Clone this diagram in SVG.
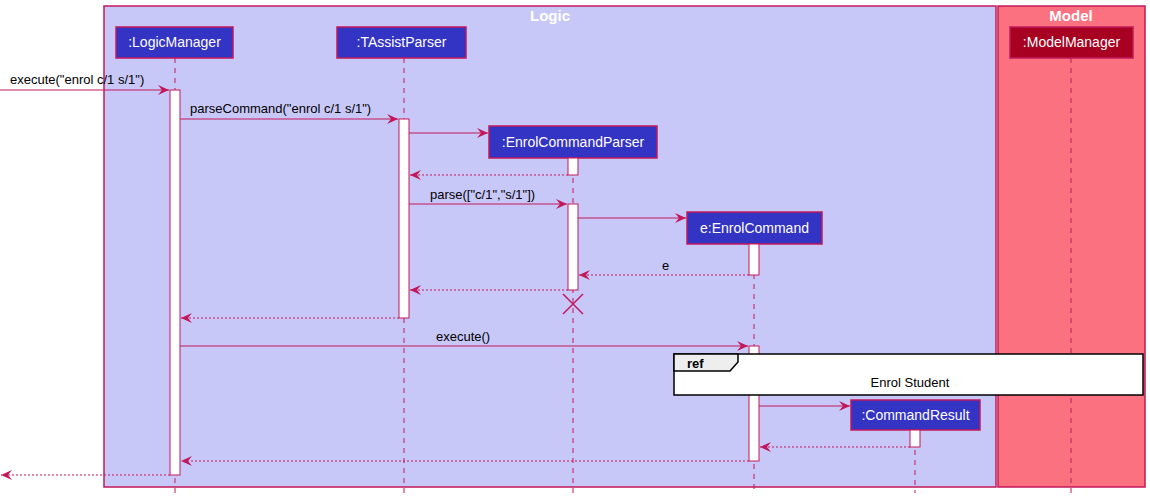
<svg xmlns="http://www.w3.org/2000/svg" width="1150" height="499" viewBox="0 0 1150 499">
<style>
text{font-family:"Liberation Sans",Arial,sans-serif;font-size:13px}
.pb{fill:#3333C4;stroke:#C2185B;stroke-width:1.5}
.pt{fill:#fff;font-size:14px}
.ll{stroke:#C2185B;stroke-width:1;stroke-dasharray:5,5}
.act{fill:#fff;stroke:#C2185B;stroke-width:1}
.m{stroke:#C2185B;stroke-width:1;fill:none}
.r{stroke:#C2185B;stroke-width:1;fill:none;stroke-dasharray:2,2}
</style>
<defs>
<marker id="a" markerWidth="12" markerHeight="10" refX="11" refY="5" orient="auto" markerUnits="userSpaceOnUse"><path d="M0,0 L11,5 L0,10 L4,5 Z" fill="#C2185B"/></marker>
</defs>
<g id="logic"><rect x="104" y="6" width="892" height="481" fill="#C8C8F8" stroke="#C2185B" stroke-width="1.5"/><text x="550" y="21" text-anchor="middle" fill="#fff" font-weight="bold" style="font-size:15px">Logic</text></g>
<g id="model"><rect x="998" y="6" width="147" height="481" fill="#FC7180" stroke="#C2185B" stroke-width="1.5"/><text x="1071" y="21" text-anchor="middle" fill="#fff" font-weight="bold" style="font-size:15px">Model</text></g>
<g id="lifelines">
<line class="ll" x1="175" y1="58" x2="175" y2="493"/>
<line class="ll" x1="404" y1="58" x2="404" y2="493"/>
<line class="ll" x1="573" y1="158" x2="573" y2="493"/>
<line class="ll" x1="754" y1="244" x2="754" y2="493"/>
<line class="ll" x1="915" y1="430" x2="915" y2="493"/>
<line class="ll" x1="1071" y1="58" x2="1071" y2="493"/>
</g>
<g id="LogicManager"><rect class="pb" x="116" y="27" width="117" height="31"/><text class="pt" x="174.5" y="47" text-anchor="middle">:LogicManager</text><rect class="act" x="170" y="90" width="10" height="385"/></g>
<g id="TAssistParser"><rect class="pb" x="337" y="27" width="129" height="31"/><text class="pt" x="401.5" y="47" text-anchor="middle">:TAssistParser</text><rect class="act" x="399" y="119" width="10" height="199"/></g>
<g id="EnrolCommandParser"><rect class="pb" x="489" y="126" width="168" height="32"/><text class="pt" x="573" y="147" text-anchor="middle">:EnrolCommandParser</text><rect class="act" x="568" y="158" width="10" height="17"/><rect class="act" x="568" y="204" width="10" height="86"/><path d="M563,294 L583,314 M583,294 L563,314" stroke="#C2185B" stroke-width="1.5"/></g>
<g id="EnrolCommand"><rect class="pb" x="687" y="212" width="135" height="32"/><text class="pt" x="754.5" y="233" text-anchor="middle">e:EnrolCommand</text><rect class="act" x="749" y="244" width="10" height="31"/><rect class="act" x="749" y="346" width="10" height="115"/></g>
<g id="CommandResult"><rect class="pb" x="851" y="400" width="129" height="30"/><text class="pt" x="915.5" y="420" text-anchor="middle">:CommandResult</text><rect class="act" x="910" y="430" width="10" height="17"/></g>
<g id="ModelManager"><rect class="pb" x="1010" y="27" width="123" height="31" fill="#A80020" style="fill:#A80020"/><text class="pt" x="1071.5" y="47" text-anchor="middle">:ModelManager</text></g>
<g id="connectors">
<line class="m" x1="0" y1="90" x2="169" y2="90" marker-end="url(#a)"/><text x="10" y="84">execute("enrol c/1 s/1")</text>
<line class="m" x1="180" y1="119" x2="398" y2="119" marker-end="url(#a)"/><text x="190" y="113">parseCommand("enrol c/1 s/1")</text>
<line class="m" x1="409" y1="133" x2="488" y2="133" marker-end="url(#a)"/>
<line class="r" x1="568" y1="175" x2="410" y2="175" marker-end="url(#a)"/>
<line class="m" x1="409" y1="204" x2="567" y2="204" marker-end="url(#a)"/><text x="430" y="199">parse(["c/1","s/1"])</text>
<line class="m" x1="578" y1="218" x2="686" y2="218" marker-end="url(#a)"/>
<line class="r" x1="749" y1="275" x2="579" y2="275" marker-end="url(#a)"/><text x="662" y="270">e</text>
<line class="r" x1="568" y1="290" x2="410" y2="290" marker-end="url(#a)"/>
<line class="r" x1="399" y1="318" x2="181" y2="318" marker-end="url(#a)"/>
<line class="m" x1="180" y1="346" x2="748" y2="346" marker-end="url(#a)"/><text x="436" y="341">execute()</text>
<line class="m" x1="759" y1="406" x2="850" y2="406" marker-end="url(#a)"/>
<line class="r" x1="910" y1="447" x2="760" y2="447" marker-end="url(#a)"/>
<line class="r" x1="749" y1="461" x2="181" y2="461" marker-end="url(#a)"/>
<line class="r" x1="170" y1="475" x2="1" y2="475" marker-end="url(#a)"/>
</g>
<g id="ref"><rect x="674" y="354" width="469" height="41" fill="#fff" stroke="#000" stroke-width="1.5"/><path d="M674,354 L738,354 L738,362 L730,371 L674,371 Z" fill="#EEEEEE" stroke="#000" stroke-width="1.5"/><text x="687" y="368" font-weight="bold">ref</text><text x="910" y="387" text-anchor="middle">Enrol Student</text></g>
</svg>
